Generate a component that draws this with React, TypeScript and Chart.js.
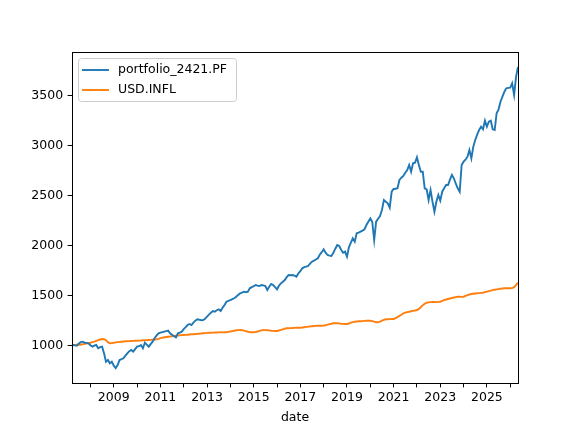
import React, { useEffect, useRef } from "react";
import { Chart, registerables } from "chart.js";

Chart.register(...registerables);

// Monthly series, first month = March 2007, last = April 2026
const START_YEAR = 2007;
const START_MONTH = 3;

const portfolioValues: number[] = [
  1007, 1003, 1000, 1020, 1035, 1040, 1030, 1028, 1024, 1005, 990, 1000,
  1007, 974, 985, 990, 924, 840, 857, 824, 840, 800, 775, 807,
  857, 865, 874, 900, 924, 945, 957, 940, 965, 990, 995, 1007,
  974, 1030, 1010, 990, 1015, 1040, 1074, 1100, 1124, 1130, 1135, 1140,
  1145, 1150, 1124, 1110, 1095, 1084, 1124, 1130, 1140, 1165, 1185, 1207,
  1217, 1207, 1230, 1250, 1264, 1260, 1255, 1257, 1270, 1290, 1310, 1330,
  1347, 1340, 1355, 1364, 1347, 1380, 1407, 1440, 1448, 1457, 1465, 1474,
  1490, 1507, 1524, 1530, 1540, 1535, 1540, 1574, 1585, 1595, 1607, 1600,
  1597, 1607, 1603, 1597, 1557, 1590, 1617, 1607, 1585, 1564, 1600, 1624,
  1640, 1657, 1685, 1707, 1705, 1707, 1700, 1690, 1724, 1745, 1774, 1785,
  1790, 1797, 1820, 1840, 1850, 1862, 1874, 1910, 1935, 1964, 1930, 1907,
  1900, 1897, 1930, 1970, 2007, 1997, 1960, 1930, 1940, 1890, 1984, 2030,
  2074, 2040, 2124, 2130, 2140, 2150, 2164, 2207, 2240, 2274, 2240, 2057,
  2240, 2270, 2297, 2357, 2457, 2440, 2424, 2380, 2540, 2567, 2570, 2574,
  2657, 2680, 2697, 2730, 2757, 2807, 2740, 2824, 2830, 2884, 2807, 2740,
  2740, 2574, 2564, 2457, 2557, 2440, 2340, 2440, 2507, 2450, 2540, 2574,
  2607, 2607, 2660, 2707, 2674, 2620, 2574, 2540, 2807, 2840, 2860, 2890,
  2957, 2874, 2990, 3057, 3110, 3157, 3190, 3164, 3250, 3190, 3240, 3250,
  3164, 3157, 3324, 3364, 3440, 3490, 3540, 3574, 3578, 3580, 3624, 3507, 3690, 3787,
];

const inflationValues: number[] = [
  1007, 1008, 1010, 1012, 1010, 1015, 1018, 1022, 1026, 1030, 1035, 1040,
  1048, 1055, 1062, 1067, 1065, 1055, 1035, 1024, 1026, 1030, 1033, 1036,
  1038, 1040, 1042, 1044, 1045, 1046, 1047, 1048, 1049, 1050, 1051, 1052,
  1054, 1055, 1056, 1057, 1058, 1060, 1062, 1064, 1068, 1075, 1080, 1084,
  1087, 1090, 1092, 1095, 1098, 1100, 1102, 1104, 1106, 1107, 1108, 1110,
  1112, 1114, 1115, 1117, 1118, 1120, 1122, 1124, 1126, 1128, 1130, 1130,
  1131, 1132, 1132, 1133, 1134, 1133, 1134, 1134, 1138, 1142, 1146, 1150,
  1154, 1156, 1157, 1155, 1150, 1145, 1140, 1136, 1134, 1134, 1137, 1142,
  1148, 1153, 1157, 1156, 1155, 1153, 1150, 1148, 1147, 1147, 1152, 1158,
  1164, 1170, 1174, 1175, 1176, 1177, 1178, 1179, 1180, 1180, 1182, 1185,
  1188, 1190, 1193, 1195, 1197, 1198, 1199, 1200, 1200, 1201, 1205, 1210,
  1216, 1220, 1224, 1225, 1225, 1223, 1220, 1218, 1217, 1217, 1222, 1230,
  1236, 1240, 1242, 1244, 1245, 1246, 1248, 1249, 1250, 1250, 1246, 1240,
  1235, 1234, 1240, 1250, 1258, 1264, 1265, 1266, 1267, 1267, 1275, 1285,
  1298, 1310, 1324, 1330, 1336, 1340, 1344, 1348, 1352, 1357, 1368, 1385,
  1405, 1420, 1430, 1433, 1436, 1437, 1437, 1436, 1438, 1440, 1448, 1455,
  1462, 1467, 1472, 1477, 1482, 1486, 1490, 1490, 1488, 1490, 1498, 1506,
  1512, 1517, 1520, 1522, 1524, 1526, 1528, 1530, 1535, 1540, 1545, 1550,
  1555, 1560, 1563, 1566, 1569, 1572, 1574, 1576, 1575, 1574, 1576, 1585, 1605, 1630,
];

const seriesNames = ["portfolio_2421.PF", "USD.INFL"];
const seriesColors = ["#1f77b4", "#ff7f0e"];
const yTickValues = [1000, 1500, 2000, 2500, 3000, 3500];
const xTickYears = [2008, 2009, 2010, 2011, 2012, 2013, 2014, 2015, 2016, 2017, 2018, 2019, 2020, 2021, 2022, 2023, 2024, 2025, 2026];
const xLabelYears = [2009, 2011, 2013, 2015, 2017, 2019, 2021, 2023, 2025];

// month-end positions as decimal years
const monthPositions: number[] = portfolioValues.map((_, i) => {
  const m = START_MONTH + i;
  return START_YEAR + m / 12;
});

const FONT = "'DejaVu Sans', sans-serif";

const framePlugin = {
  id: "frameAndLegend",
  afterDraw(chart: any) {
    const { ctx, chartArea } = chart;
    ctx.save();
    ctx.strokeStyle = "#000";
    ctx.lineWidth = 1;
    ctx.strokeRect(
      Math.round(chartArea.left) + 0.5,
      Math.round(chartArea.top) + 0.5,
      Math.round(chartArea.right - chartArea.left),
      Math.round(chartArea.bottom - chartArea.top)
    );
    // legend
    const lx = 78.5, ly = 58.5, lw = 158, lh = 43, r = 3;
    ctx.beginPath();
    ctx.moveTo(lx + r, ly);
    ctx.lineTo(lx + lw - r, ly);
    ctx.arcTo(lx + lw, ly, lx + lw, ly + r, r);
    ctx.lineTo(lx + lw, ly + lh - r);
    ctx.arcTo(lx + lw, ly + lh, lx + lw - r, ly + lh, r);
    ctx.lineTo(lx + r, ly + lh);
    ctx.arcTo(lx, ly + lh, lx, ly + lh - r, r);
    ctx.lineTo(lx, ly + r);
    ctx.arcTo(lx, ly, lx + r, ly, r);
    ctx.closePath();
    ctx.fillStyle = "rgba(255,255,255,0.8)";
    ctx.fill();
    ctx.strokeStyle = "#cccccc";
    ctx.stroke();
    chart.data.datasets.forEach((ds: any, i: number) => {
      const yy = 70 + i * 20;
      ctx.strokeStyle = ds.borderColor;
      ctx.lineWidth = 1.9;
      ctx.beginPath();
      ctx.moveTo(82, yy);
      ctx.lineTo(109, yy);
      ctx.stroke();
      ctx.fillStyle = "#000";
      ctx.font = `12.5px ${FONT}`;
      ctx.textBaseline = "middle";
      ctx.textAlign = "left";
      ctx.fillText(ds.label, 118, yy);
    });
    ctx.restore();
  },
};

export default function App() {
  const ref = useRef<HTMLCanvasElement | null>(null);
  useEffect(() => {
    document.body.style.margin = "0";
    const canvas = ref.current!;
    const chart = new Chart(canvas, {
      type: "line",
      data: {
        datasets: [portfolioValues, inflationValues].map((vals, k) => ({
          label: seriesNames[k],
          data: vals.map((v, i) => ({ x: monthPositions[i], y: v })),
          borderColor: seriesColors[k],
          backgroundColor: seriesColors[k],
          borderWidth: 1.9,
          pointRadius: 0,
          tension: 0,
          fill: false,
        })),
      },
      options: {
        animation: false,
        responsive: false,
        devicePixelRatio: 1,
        layout: { padding: { left: 0, top: 52, right: 58, bottom: 0 } },
        plugins: { legend: { display: false }, tooltip: { enabled: false } },
        scales: {
          x: {
            type: "linear",
            min: monthPositions[0] - 0.04,
            max: monthPositions[monthPositions.length - 1],
            afterBuildTicks: (scale: any) => {
              scale.ticks = xTickYears.map((v) => ({ value: v }));
            },
            afterFit: (scale: any) => {
              scale.height = 49;
            },
            grid: { drawOnChartArea: false, drawTicks: true, tickLength: 4.4, tickColor: "#000", tickWidth: 1 },
            border: { display: true, color: "#000", width: 1 },
            ticks: {
              autoSkip: false,
              maxRotation: 0,
              padding: 3,
              color: "#000",
              font: { family: FONT, size: 12.5 },
              callback: (v: any) => (xLabelYears.includes(Number(v)) ? String(v) : ""),
            },
            title: {
              display: true,
              text: "date",
              color: "#000",
              font: { family: FONT, size: 12.5, lineHeight: 1.2 },
              padding: { top: 0, bottom: 7 },
            },
          },
          y: {
            min: 627,
            max: 3937,
            afterBuildTicks: (scale: any) => {
              scale.ticks = yTickValues.map((v) => ({ value: v }));
            },
            afterFit: (scale: any) => {
              scale.width = 72;
            },
            grid: { drawOnChartArea: false, drawTicks: true, tickLength: 4.4, tickColor: "#000", tickWidth: 1 },
            border: { display: true, color: "#000", width: 1 },
            ticks: {
              padding: 4.5,
              color: "#000",
              font: { family: FONT, size: 12.5 },
              callback: (v: any) => String(v),
            },
          },
        },
      },
      plugins: [framePlugin],
    });
    return () => chart.destroy();
  }, []);
  return (
    <div style={{ width: 576, height: 432, background: "#fff" }}>
      <canvas ref={ref} width={576} height={432} style={{ display: "block" }} />
    </div>
  );
}
